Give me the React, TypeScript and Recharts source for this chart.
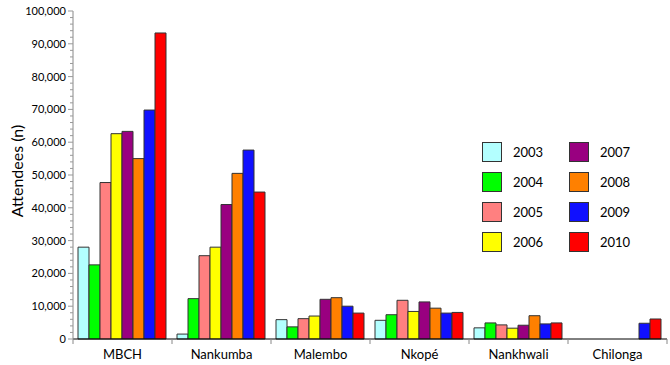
import { BarChart, Bar, XAxis, YAxis, Legend } from "recharts"

const categories = ["MBCH", "Nankumba", "Malembo", "Nkopé", "Nankhwali", "Chilonga"]
const years = ["2003", "2004", "2005", "2006", "2007", "2008", "2009", "2010"]
const colors = ["#b3ffff", "#00ff00", "#ff8080", "#ffff00", "#990080", "#ff8000", "#1010ff", "#ff0000"]

const y2003 = [28000, 1500, 5900, 5700, 3400, null]
const y2004 = [22600, 12300, 3700, 7400, 4900, null]
const y2005 = [47700, 25400, 6200, 11800, 4300, null]
const y2006 = [62600, 28000, 7000, 8400, 3300, null]
const y2007 = [63300, 41000, 12100, 11300, 4200, null]
const y2008 = [55000, 50500, 12600, 9400, 7100, null]
const y2009 = [69800, 57600, 10000, 7900, 4600, 4800]
const y2010 = [93300, 44800, 7900, 8100, 4900, 6100]

const series = [y2003, y2004, y2005, y2006, y2007, y2008, y2009, y2010]
// every 2,000 gets a tick mark, every 10,000 a label
const yTicks = Array.from({ length: 51 }, (_, i) => i * 2000)

const data = categories.map((name, i) => {
  const row: any = { name }
  years.forEach((yr, j) => {
    row[yr] = series[j][i]
  })
  return row
})

const FONT = "Lato, 'Open Sans', sans-serif"
const BAND = 99

const CategoryTick = ({ x, y, payload, index }: any) => (
  <g>
    <line x1={x - BAND / 2} y1={y} x2={x - BAND / 2} y2={y + 5} stroke="#888" />
    {index === categories.length - 1 && (
      <line x1={x + BAND / 2} y1={y} x2={x + BAND / 2} y2={y + 5} stroke="#888" />
    )}
    <text x={x} y={y + 20} textAnchor="middle" fontSize={13} fill="#000">
      {payload.value}
    </text>
  </g>
)

const ValueTick = ({ x, y, payload }: any) => {
  const major = payload.value % 10000 === 0
  return (
    <g>
      <line x1={x - (major ? 5 : 3)} y1={y} x2={x} y2={y} stroke="#999" />
      {major && (
        <text x={x - 7} y={y} dy={4} textAnchor="end" fontSize={11} fill="#000">
          {payload.value.toLocaleString("en-US")}
        </text>
      )}
    </g>
  )
}

const LegendBox = () => (
  <div
    style={{
      display: "grid",
      gridTemplateRows: "repeat(4, 30px)",
      gridTemplateColumns: "87px 87px",
      gridAutoFlow: "column",
      fontFamily: FONT,
      fontSize: 13,
      color: "#000",
    }}
  >
    {years.map((yr, i) => (
      <div key={yr} style={{ display: "flex", alignItems: "center", height: 20 }}>
        <span
          style={{
            width: 18,
            height: 18,
            background: colors[i],
            border: "1px solid #333",
            display: "inline-block",
          }}
        />
        <span style={{ marginLeft: 11 }}>{yr}</span>
      </div>
    ))}
  </div>
)

export default function App() {
  return (
    <div style={{ position: "absolute", left: 0, top: 0, fontFamily: FONT }}>
      <BarChart
        width={670}
        height={365}
        data={data}
        margin={{ top: 11, right: 3, left: 0, bottom: 0 }}
        barCategoryGap={5}
        barGap={0}
      >
        <XAxis
          dataKey="name"
          height={26}
          tickLine={false}
          tickSize={0}
          tickMargin={0}
          tick={<CategoryTick />}
          axisLine={{ stroke: "#000" }}
          interval={0}
        />
        <YAxis
          width={73}
          domain={[0, 100000]}
          ticks={yTicks}
          tickSize={0}
          tickMargin={0}
          tickLine={false}
          interval={0}
          tick={<ValueTick />}
          axisLine={{ stroke: "#888" }}
          label={{
            content: () => (
              <text
                x={16}
                y={171}
                transform="rotate(-90 16 171)"
                textAnchor="middle"
                dominantBaseline="central"
                fontSize={16}
                fill="#000"
              >
                Attendees (n)
              </text>
            ),
          }}
        />
        <Legend
          layout="horizontal"
          verticalAlign="middle"
          align="center"
          wrapperStyle={{ left: 482, top: 142, width: 180 }}
          content={<LegendBox />}
        />
        {years.map((yr, i) => (
          <Bar
            key={yr}
            dataKey={yr}
            fill={colors[i]}
            stroke="#333"
            strokeWidth={1}
            isAnimationActive={false}
          />
        ))}
      </BarChart>
    </div>
  )
}
